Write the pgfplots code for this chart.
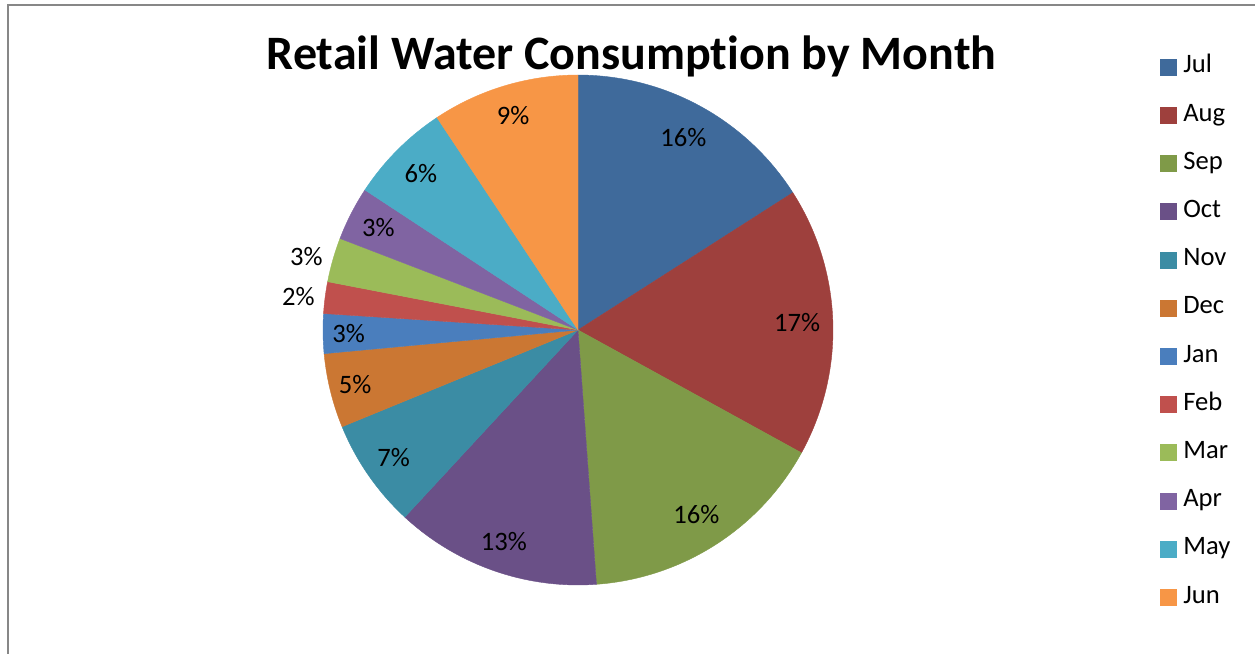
\documentclass[border=0pt]{standalone}
\usepackage{fontspec}
\setmainfont{Carlito}[Ligatures=NoCommon]
\usepackage{pgfplots}
\usepackage{pgfplotstable}
\pgfplotsset{compat=1.18}
\definecolor{cJul}{HTML}{3F6A9B}
\definecolor{cAug}{HTML}{9E403D}
\definecolor{cSep}{HTML}{7F9A48}
\definecolor{cOct}{HTML}{6A5087}
\definecolor{cNov}{HTML}{3B8CA4}
\definecolor{cDec}{HTML}{CB7733}
\definecolor{cJan}{HTML}{4A7EBD}
\definecolor{cFeb}{HTML}{C0504D}
\definecolor{cMar}{HTML}{9BBB59}
\definecolor{cApr}{HTML}{8064A2}
\definecolor{cMay}{HTML}{4BACC6}
\definecolor{cJun}{HTML}{F79646}
\pgfplotstableread{
month value lab r anc col
Jul 15.9 16 0.86 center cJul
Aug 17.0 17 0.86 center cAug
Sep 15.8 16 0.86 center cSep
Oct 13.0 13 0.88 center cOct
Nov 6.9 7 0.88 center cNov
Dec 4.7 5 0.90 center cDec
Jan 2.5 3 0.90 center cJan
Feb 2.0 2 1.04 east cFeb
Mar 2.8 3 1.04 east cMar
Apr 3.4 3 0.88 center cApr
May 6.4 6 0.87 center cMay
Jun 9.3 9 0.88 center cJun
}\piedata
\newcommand\labfont{\fontsize{13.3}{16}\selectfont}
\begin{document}
\begin{tikzpicture}
\path[use as bounding box] (0pt,0pt) rectangle (627.5pt,327pt);
\draw[color=black!47, line width=1pt] (4pt,0pt) -- (4pt,324.65pt) -- (627.5pt,324.65pt);
\node[font=\bfseries\fontsize{24}{29}\selectfont, anchor=base] at (315.75pt,292pt) {Retail Water Consumption by Month};
\begin{axis}[
  at={(289pt,162pt)}, anchor=center,
  width=255pt, height=255pt, scale only axis,
  xmin=-1, xmax=1, ymin=-1, ymax=1,
  hide axis, clip=false,
  legend cell align=left,
  legend image code/.code={\fill[#1] (0pt,-4pt) rectangle (8pt,4pt);},
  legend style={at={(1.641,0.496)}, anchor=west, draw=none, fill=none,
    inner sep=0pt, outer sep=0pt, row sep=12.1pt, column sep=3.5pt,
    nodes={inner sep=0pt, text height=9pt, text depth=3pt},
    font=\labfont},
]
\pgfplotstablegetrowsof{\piedata}
\pgfmathtruncatemacro\nrows{\pgfplotsretval-1}
\def\total{0}
\pgfplotsforeachungrouped \i in {0,...,\nrows}{%
  \pgfplotstablegetelem{\i}{value}\of\piedata
  \pgfmathsetmacro\total{\total+\pgfplotsretval}%
}
\def\cum{0}
\pgfplotsforeachungrouped \i in {0,...,\nrows}{%
  \pgfplotstablegetelem{\i}{value}\of\piedata \let\v\pgfplotsretval
  \pgfplotstablegetelem{\i}{col}\of\piedata \let\c\pgfplotsretval
  \pgfplotstablegetelem{\i}{month}\of\piedata \let\m\pgfplotsretval
  \pgfmathsetmacro\a{90-(\cum/\total)*360}%
  \pgfmathsetmacro\cum{\cum+\v}%
  \pgfmathsetmacro\b{90-(\cum/\total)*360}%
  \edef\cmd{\noexpand\addplot[fill=\c, draw=\c, line width=0.2pt, domain=\b:\a, samples=60] ({cos(x)},{sin(x)}) -- (axis cs:0,0) -- cycle; \noexpand\addlegendentry{\m}}%
  \cmd
}
\def\cum{0}
\pgfplotsforeachungrouped \i in {0,...,\nrows}{%
  \pgfplotstablegetelem{\i}{value}\of\piedata \let\v\pgfplotsretval
  \pgfplotstablegetelem{\i}{lab}\of\piedata \let\lab\pgfplotsretval
  \pgfplotstablegetelem{\i}{r}\of\piedata \let\rr\pgfplotsretval
  \pgfplotstablegetelem{\i}{anc}\of\piedata \let\an\pgfplotsretval
  \pgfmathsetmacro\a{90-(\cum/\total)*360}%
  \pgfmathsetmacro\cum{\cum+\v}%
  \pgfmathsetmacro\b{90-(\cum/\total)*360}%
  \pgfmathsetmacro\mm{(\a+\b)/2}%
  \pgfmathsetmacro\lx{\rr*cos(\mm)}%
  \pgfmathsetmacro\ly{\rr*sin(\mm)}%
  \edef\cmd{\noexpand\node[anchor=\an, font=\noexpand\labfont, inner sep=0pt] at (axis cs:\lx,\ly) {\lab\%};}%
  \cmd
}
\end{axis}
\end{tikzpicture}
\end{document}
